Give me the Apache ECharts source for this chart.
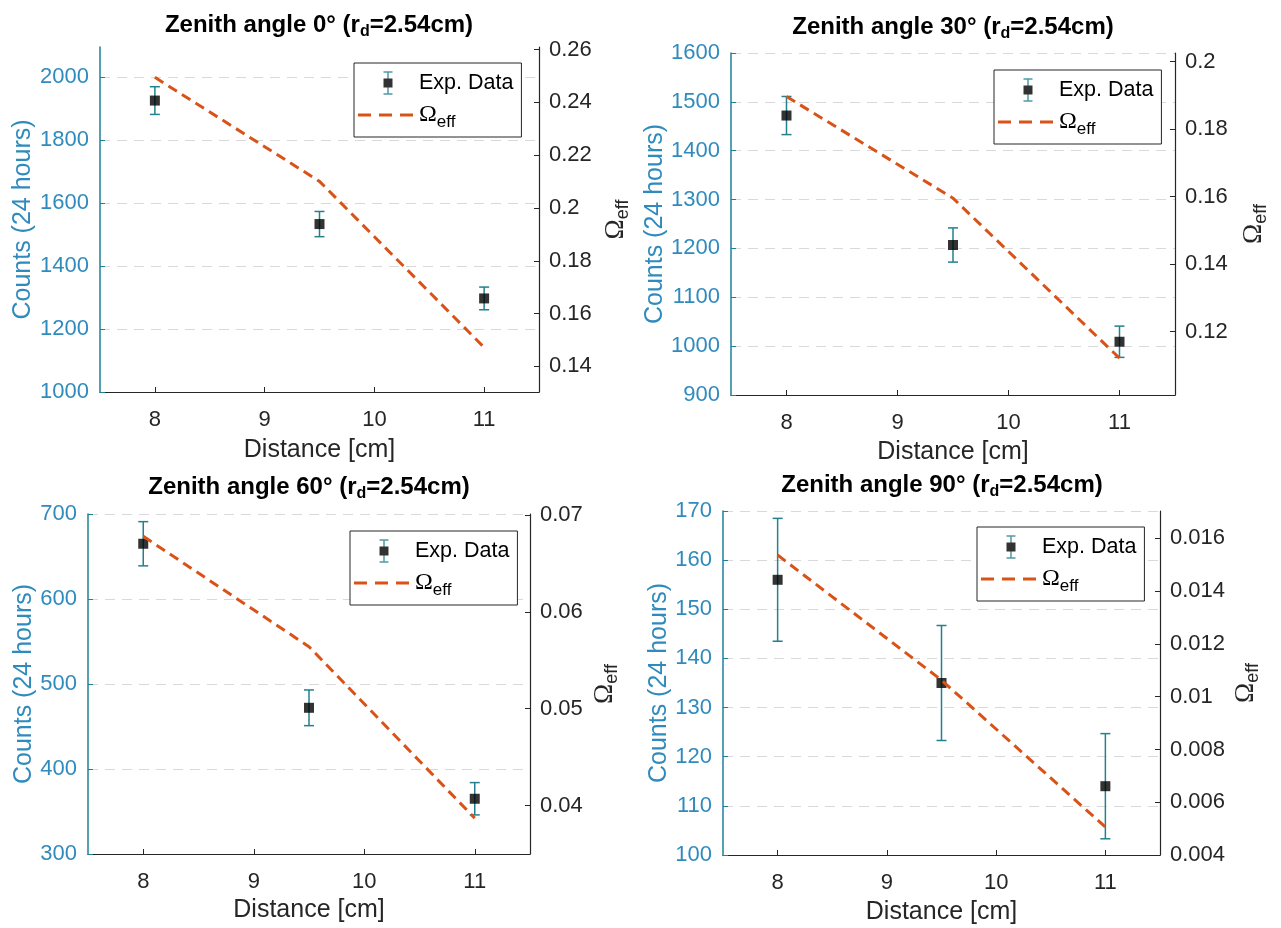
<!DOCTYPE html>
<html>
<head>
<meta charset="utf-8">
<title>Counts vs distance at four zenith angles</title>
<script src="https://cdn.jsdelivr.net/npm/echarts@6/dist/echarts.min.js"></script>
<style>
  html, body { margin: 0; padding: 0; background: #fff; }
  #chart { width: 1281px; height: 928px; }
</style>
</head>
<body>
<div id="chart"></div>
<script>
// detector distance (cm) and x tick labels
const distances = [8, 9.5, 11]
const xTicks = [8, 9, 10, 11]

const angles = ['0°', '30°', '60°', '90°']

// counts in 24 hours and error bar half-heights, one pair per zenith angle
const counts0 = [1925, 1533, 1297]
const errors0 = [44, 40, 36]
const counts30 = [1472, 1207, 1009]
const errors30 = [39, 35, 32]
const counts60 = [665, 472, 365]
const errors60 = [26, 21, 19]
const counts90 = [156, 135, 114]
const errors90 = [12.5, 11.7, 10.7]

// effective solid angle (right axis)
const omega0 = [0.2495, 0.2101, 0.1472]
const omega30 = [0.1896, 0.1595, 0.1121]
const omega60 = [0.0678, 0.0564, 0.0387]
const omega90 = [0.01537, 0.01063, 0.00506]

// axis ranges and ticks
const countRanges = [[1000, 2095], [900, 1600], [300, 700], [100, 170]]
const countSteps = [200, 100, 100, 10]
const omegaRanges = [[0.1303, 0.261], [0.1012, 0.2025], [0.035, 0.0701], [0.004, 0.01704]]
const omegaTicks0 = [0.14, 0.16, 0.18, 0.2, 0.22, 0.24, 0.26]
const omegaTicks30 = [0.12, 0.14, 0.16, 0.18, 0.2]
const omegaTicks60 = [0.04, 0.05, 0.06, 0.07]
const omegaTicks90 = [0.004, 0.006, 0.008, 0.01, 0.012, 0.014, 0.016]

const allCounts = [counts0, counts30, counts60, counts90]
const allErrors = [errors0, errors30, errors60, errors90]
const allOmega = [omega0, omega30, omega60, omega90]
const allOmegaTicks = [omegaTicks0, omegaTicks30, omegaTicks60, omegaTicks90]

// 版面（像素）
const layouts = [
  { grid: { left: 100, top: 47, width: 439, height: 345 }, legend: [354, 63], title: [319, 11], leftGap: 64, rightGap: 60, xGap: 46 },
  { grid: { left: 731, top: 53, width: 444, height: 342 }, legend: [994, 70], title: [953, 13], leftGap: 60, rightGap: 62, xGap: 45 },
  { grid: { left: 88, top: 514, width: 442, height: 340 }, legend: [350, 531], title: [309, 473], leftGap: 47, rightGap: 58, xGap: 44 },
  { grid: { left: 723, top: 511, width: 437, height: 344 }, legend: [977, 527], title: [942, 471], leftGap: 50, rightGap: 69, xGap: 45 }
]

const font = '"Liberation Sans", Arial, Helvetica, sans-serif'
const serif = '"Liberation Serif", "Times New Roman", serif'
const axisDark = '#262626'
const countLabel = '#2f8bbd'
const countAxis = '#1f8099'
const errColor = '#23808f'
const omegaColor = '#d95319'

function svgIcon(body) {
  return 'image://data:image/svg+xml;charset=utf-8,' + encodeURIComponent(
    '<svg xmlns="http://www.w3.org/2000/svg" width="57" height="24" viewBox="0 0 57 24">' + body + '</svg>')
}

const errIcon = svgIcon(
  '<g stroke="' + errColor + '" stroke-width="1.5" fill="none">' +
  '<line x1="31" y1="1" x2="31" y2="23"/><line x1="26.5" y1="1" x2="35.5" y2="1"/>' +
  '<line x1="26.5" y1="23" x2="35.5" y2="23"/></g>' +
  '<rect x="26.5" y="7.5" width="9" height="9" fill="#000"/>')

const dashIcon = svgIcon(
  '<line x1="1" y1="12" x2="56" y2="12" stroke="' + omegaColor + '" stroke-width="3" stroke-dasharray="13 8"/>')

function renderErrorBar(params, api) {
  const lo = api.coord([api.value(0), api.value(1)])
  const hi = api.coord([api.value(0), api.value(2)])
  const half = 5
  const style = { stroke: errColor, lineWidth: 1.5, fill: null }
  return {
    type: 'group',
    children: [
      { type: 'line', shape: { x1: lo[0], y1: lo[1], x2: hi[0], y2: hi[1] }, style },
      { type: 'line', shape: { x1: lo[0] - half, y1: lo[1], x2: lo[0] + half, y2: lo[1] }, style },
      { type: 'line', shape: { x1: hi[0] - half, y1: hi[1], x2: hi[0] + half, y2: hi[1] }, style }
    ]
  }
}

const option = {
  animation: false,
  backgroundColor: '#fff',
  textStyle: { fontFamily: font },
  title: [], grid: [], xAxis: [], yAxis: [], legend: [], series: []
}

layouts.forEach((lay, i) => {
  const [cMin, cMax] = countRanges[i]
  const topIsTick = cMax % countSteps[i] === 0

  option.title.push({
    text: `{t|Zenith angle ${angles[i]} (r}{s|d}{t|=2.54cm)}`,
    left: lay.title[0], top: lay.title[1], textAlign: 'center', padding: 0,
    textStyle: {
      rich: {
        t: { fontFamily: font, fontSize: 24, fontWeight: 'bold', color: '#000' },
        s: { fontFamily: font, fontSize: 16, fontWeight: 'bold', color: '#000', padding: [13, 0, 0, 0] }
      }
    }
  })

  option.grid.push({ ...lay.grid, containLabel: false, outerBoundsMode: 'none' })

  option.xAxis.push({
    type: 'value', gridIndex: i, min: 7.5, max: 11.5,
    name: 'Distance [cm]', nameLocation: 'middle', nameGap: lay.xGap,
    nameTextStyle: { color: axisDark, fontSize: 25, fontFamily: font },
    axisLine: { show: true, onZero: false, lineStyle: { color: axisDark, width: 1.2 } },
    axisTick: { show: true, inside: true, length: 5, customValues: xTicks, lineStyle: { color: axisDark } },
    axisLabel: { color: axisDark, fontSize: 22, margin: 17, fontFamily: font, customValues: xTicks },
    splitLine: { show: false }
  })

  // left: counts
  option.yAxis.push({
    type: 'value', gridIndex: i, position: 'left',
    min: cMin, max: cMax, interval: countSteps[i],
    name: 'Counts (24 hours)', nameLocation: 'middle', nameRotate: 90, nameGap: lay.leftGap,
    nameTextStyle: { color: countLabel, fontSize: 25, fontFamily: font },
    axisLine: { show: true, lineStyle: { color: countAxis, width: 1.5 } },
    axisTick: { show: true, inside: true, length: 5, lineStyle: { color: countAxis } },
    axisLabel: {
      color: countLabel, fontSize: 22, margin: 11, fontFamily: font, showMaxLabel: topIsTick,
      formatter: v => String(v)
    },
    splitLine: { show: true, showMaxLine: topIsTick, lineStyle: { color: '#d9d9d9', type: [10, 7], width: 1 } }
  })

  // right: Ω_eff
  option.yAxis.push({
    type: 'value', gridIndex: i, position: 'right',
    min: omegaRanges[i][0], max: omegaRanges[i][1],
    name: '{o|Ω}{s|eff}', nameLocation: 'middle', nameRotate: 90, nameGap: lay.rightGap,
    nameTextStyle: {
      rich: {
        o: { fontFamily: serif, fontSize: 27, color: axisDark },
        s: { fontFamily: font, fontSize: 18, color: axisDark, padding: [15, 0, 0, 0] }
      }
    },
    axisLine: { show: true, lineStyle: { color: axisDark, width: 1.2 } },
    axisTick: { show: true, inside: true, length: 5, customValues: allOmegaTicks[i], lineStyle: { color: axisDark } },
    axisLabel: {
      color: axisDark, fontSize: 22, margin: 10, fontFamily: font, customValues: allOmegaTicks[i],
      formatter: v => String(v)
    },
    splitLine: { show: false }
  })

  option.legend.push({
    left: lay.legend[0], top: lay.legend[1], orient: 'vertical',
    data: [{ name: 'Exp. Data', icon: errIcon }, { name: 'Ω_eff', icon: dashIcon }],
    itemWidth: 57, itemHeight: 24, itemGap: 8,
    padding: [8, 8, 6, 3],
    borderColor: axisDark, borderWidth: 1, backgroundColor: '#fff',
    selectedMode: false,
    formatter: name => (name === 'Ω_eff' ? '{o|Ω}{s|eff}' : name),
    textStyle: {
      fontSize: 21.5, color: '#000', fontFamily: font,
      rich: {
        o: { fontFamily: serif, fontSize: 24, color: '#000' },
        s: { fontFamily: font, fontSize: 17, color: '#000', padding: [15, 0, 0, 0] }
      }
    }
  })

  const counts = allCounts[i]
  const errors = allErrors[i]

  option.series.push({
    name: 'err' + i,
    type: 'custom', xAxisIndex: i, yAxisIndex: 2 * i,
    renderItem: renderErrorBar,
    encode: { x: 0, y: [1, 2] },
    data: distances.map((d, k) => [d, counts[k] - errors[k], counts[k] + errors[k]]),
    z: 3
  })
  option.series.push({
    name: 'Exp. Data',
    type: 'scatter', xAxisIndex: i, yAxisIndex: 2 * i,
    symbol: 'rect', symbolSize: 10,
    itemStyle: { color: '#000' },
    data: distances.map((d, k) => [d, counts[k]]),
    z: 4
  })
  option.series.push({
    name: 'Ω_eff',
    type: 'line', xAxisIndex: i, yAxisIndex: 2 * i + 1,
    symbol: 'none',
    lineStyle: { color: omegaColor, width: 3, type: [10, 6] },
    itemStyle: { color: omegaColor },
    data: distances.map((d, k) => [d, allOmega[i][k]]),
    z: 5
  })
})

const chart = echarts.init(document.getElementById('chart'), null, { renderer: 'canvas' })
chart.setOption(option)
</script>
</body>
</html>
